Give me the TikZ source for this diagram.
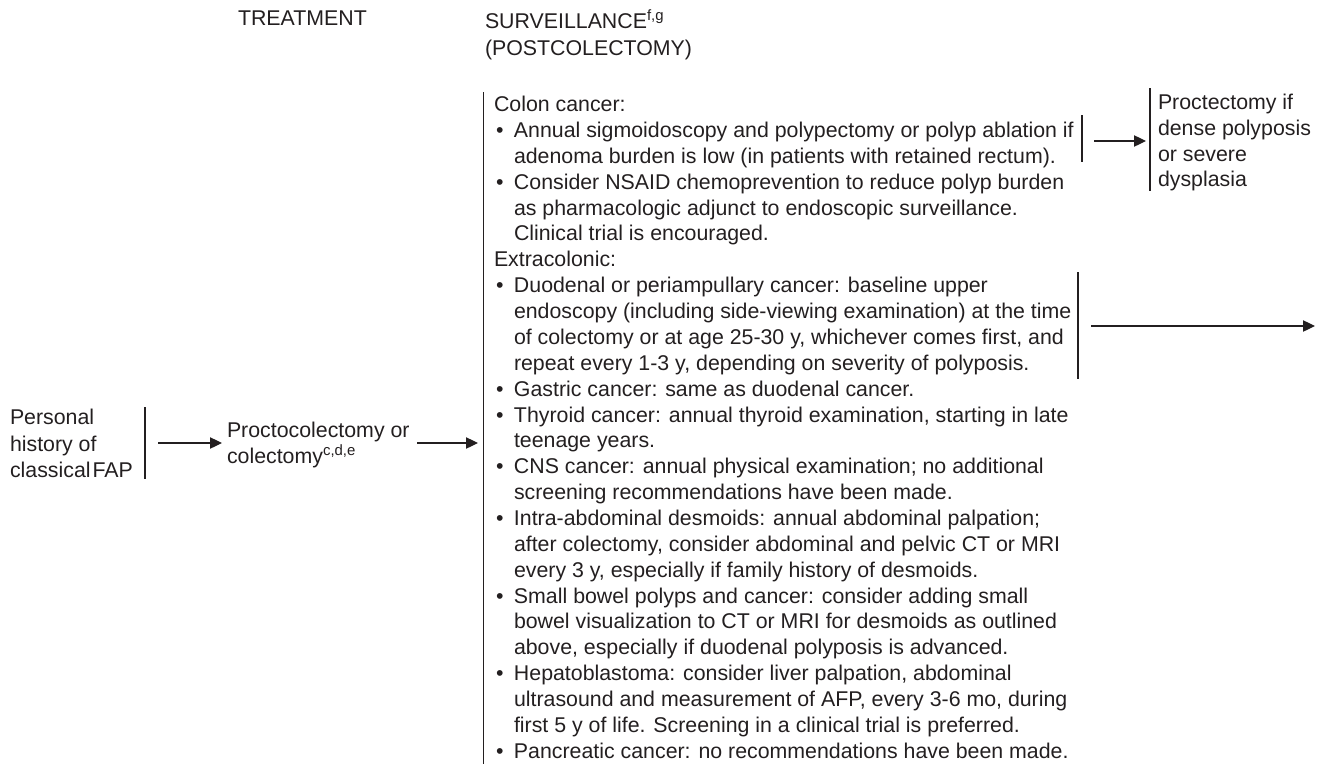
\documentclass[tikz,border=0pt]{standalone}
\usepackage{fontspec}
\setmainfont{Liberation Sans}
\usetikzlibrary{arrows.meta}
\definecolor{ink}{HTML}{231F20}
% bullet and hanging indent for the surveillance list
\newcommand{\bul}{\makebox[15pt][l]{\hspace{1.5pt}\textbullet}}
\newcommand{\ind}{\hspace*{15pt}}
% fixed-height strut so that a node's top sits 12pt above its first baseline
\newcommand{\sstrut}{\rule{0pt}{12pt}}
\tikzset{
  txt/.style={inner sep=0pt, outer sep=0pt, text=ink, anchor=north west,
    align=left, font=\fontsize{16}{19.4}\selectfont},
  bar/.style={draw=ink, line width=0.9pt},
  arr/.style={draw=ink, line width=0.9pt, -{Triangle[length=9pt,width=8.5pt]}}
}
\begin{document}
\begin{tikzpicture}[x=0.75pt, y=-0.75pt]
\useasboundingbox (0,0) rectangle (1320,764);

% column headings
\node[txt] (hTreat) at (238,9.6) {\sstrut TREATMENT};
\node[txt, font=\fontsize{16}{20.25}\selectfont] (hSurv) at (485,9.6)
  {\sstrut SURVEILLANCE\textsuperscript{f,g}\\(POSTCOLECTOMY)};

% starting condition
\node[txt, font=\fontsize{16}{19.8}\selectfont] (fap) at (10,408.6)
  {\sstrut Personal\\history of\\{\spaceskip=1.5pt classical FAP}};
\coordinate (fapT) at (145,407);
\coordinate (fapB) at (145,479);
\draw[bar] (fapT) -- (fapB);

% treatment
\node[txt, font=\fontsize{16}{19.5}\selectfont] (surg) at (227,421.6)
  {\sstrut Proctocolectomy or\\colectomy\textsuperscript{c,d,e}};
\coordinate (a1s) at (158,443);
\coordinate (a1e) at (222,443);
\draw[arr] (a1s) -- (a1e);

% surveillance list
\coordinate (survT) at (483.5,92);
\coordinate (survB) at (483.5,764);
\coordinate (a2s) at (417,443);
\coordinate (a2e) at (478,443);
\draw[arr] (a2s) -- (a2e);
\draw[bar] (survT) -- (survB);
\node[txt] (surv) at (494,95.6) {\sstrut Colon cancer:\\
\bul Annual sigmoidoscopy and polypectomy or polyp ablation if\\
\ind adenoma burden is low (in patients with retained rectum).\\
\bul Consider NSAID chemoprevention to reduce polyp burden\\
\ind as pharmacologic adjunct to endoscopic surveillance.\\
\ind Clinical trial is encouraged.\\
Extracolonic:\\
\bul Duodenal or periampullary cancer: baseline upper\\
\ind endoscopy (including side-viewing examination) at the time\\
\ind of colectomy or at age 25-30 y, whichever comes first, and\\
\ind repeat every 1-3 y, depending on severity of polyposis.\\
\bul Gastric cancer: same as duodenal cancer.\\
\bul Thyroid cancer: annual thyroid examination, starting in late\\
\ind teenage years.\\
\bul CNS cancer: annual physical examination; no additional\\
\ind screening recommendations have been made.\\
\bul Intra-abdominal desmoids: annual abdominal palpation;\\
\ind after colectomy, consider abdominal and pelvic CT or MRI\\
\ind every 3 y, especially if family history of desmoids.\\
\bul Small bowel polyps and cancer: consider adding small\\
\ind bowel visualization to CT or MRI for desmoids as outlined\\
\ind above, especially if duodenal polyposis is advanced.\\
\bul Hepatoblastoma: consider liver palpation, abdominal\\
\ind ultrasound and measurement of AFP, every 3-6 mo, during\\
\ind first 5 y of life. Screening in a clinical trial is preferred.\\
\bul Pancreatic cancer: no recommendations have been made.};

% colon branch
\coordinate (colT) at (1082,115);
\coordinate (colB) at (1082,162);
\draw[bar] (colT) -- (colB);
\coordinate (a3s) at (1094,141);
\coordinate (a3e) at (1146,141);
\draw[arr] (a3s) -- (a3e);
\coordinate (procT) at (1150,88);
\coordinate (procB) at (1150,191);
\draw[bar] (procT) -- (procB);
\node[txt, font=\fontsize{16}{19.3}\selectfont] (proc) at (1158,93.6)
  {\sstrut Proctectomy if\\dense polyposis\\or severe\\dysplasia};

% duodenal branch
\coordinate (duoT) at (1078,272);
\coordinate (duoB) at (1078,379);
\draw[bar] (duoT) -- (duoB);
\coordinate (a4s) at (1091,326);
\coordinate (a4e) at (1315,326);
\draw[arr] (a4s) -- (a4e);
\end{tikzpicture}
\end{document}
